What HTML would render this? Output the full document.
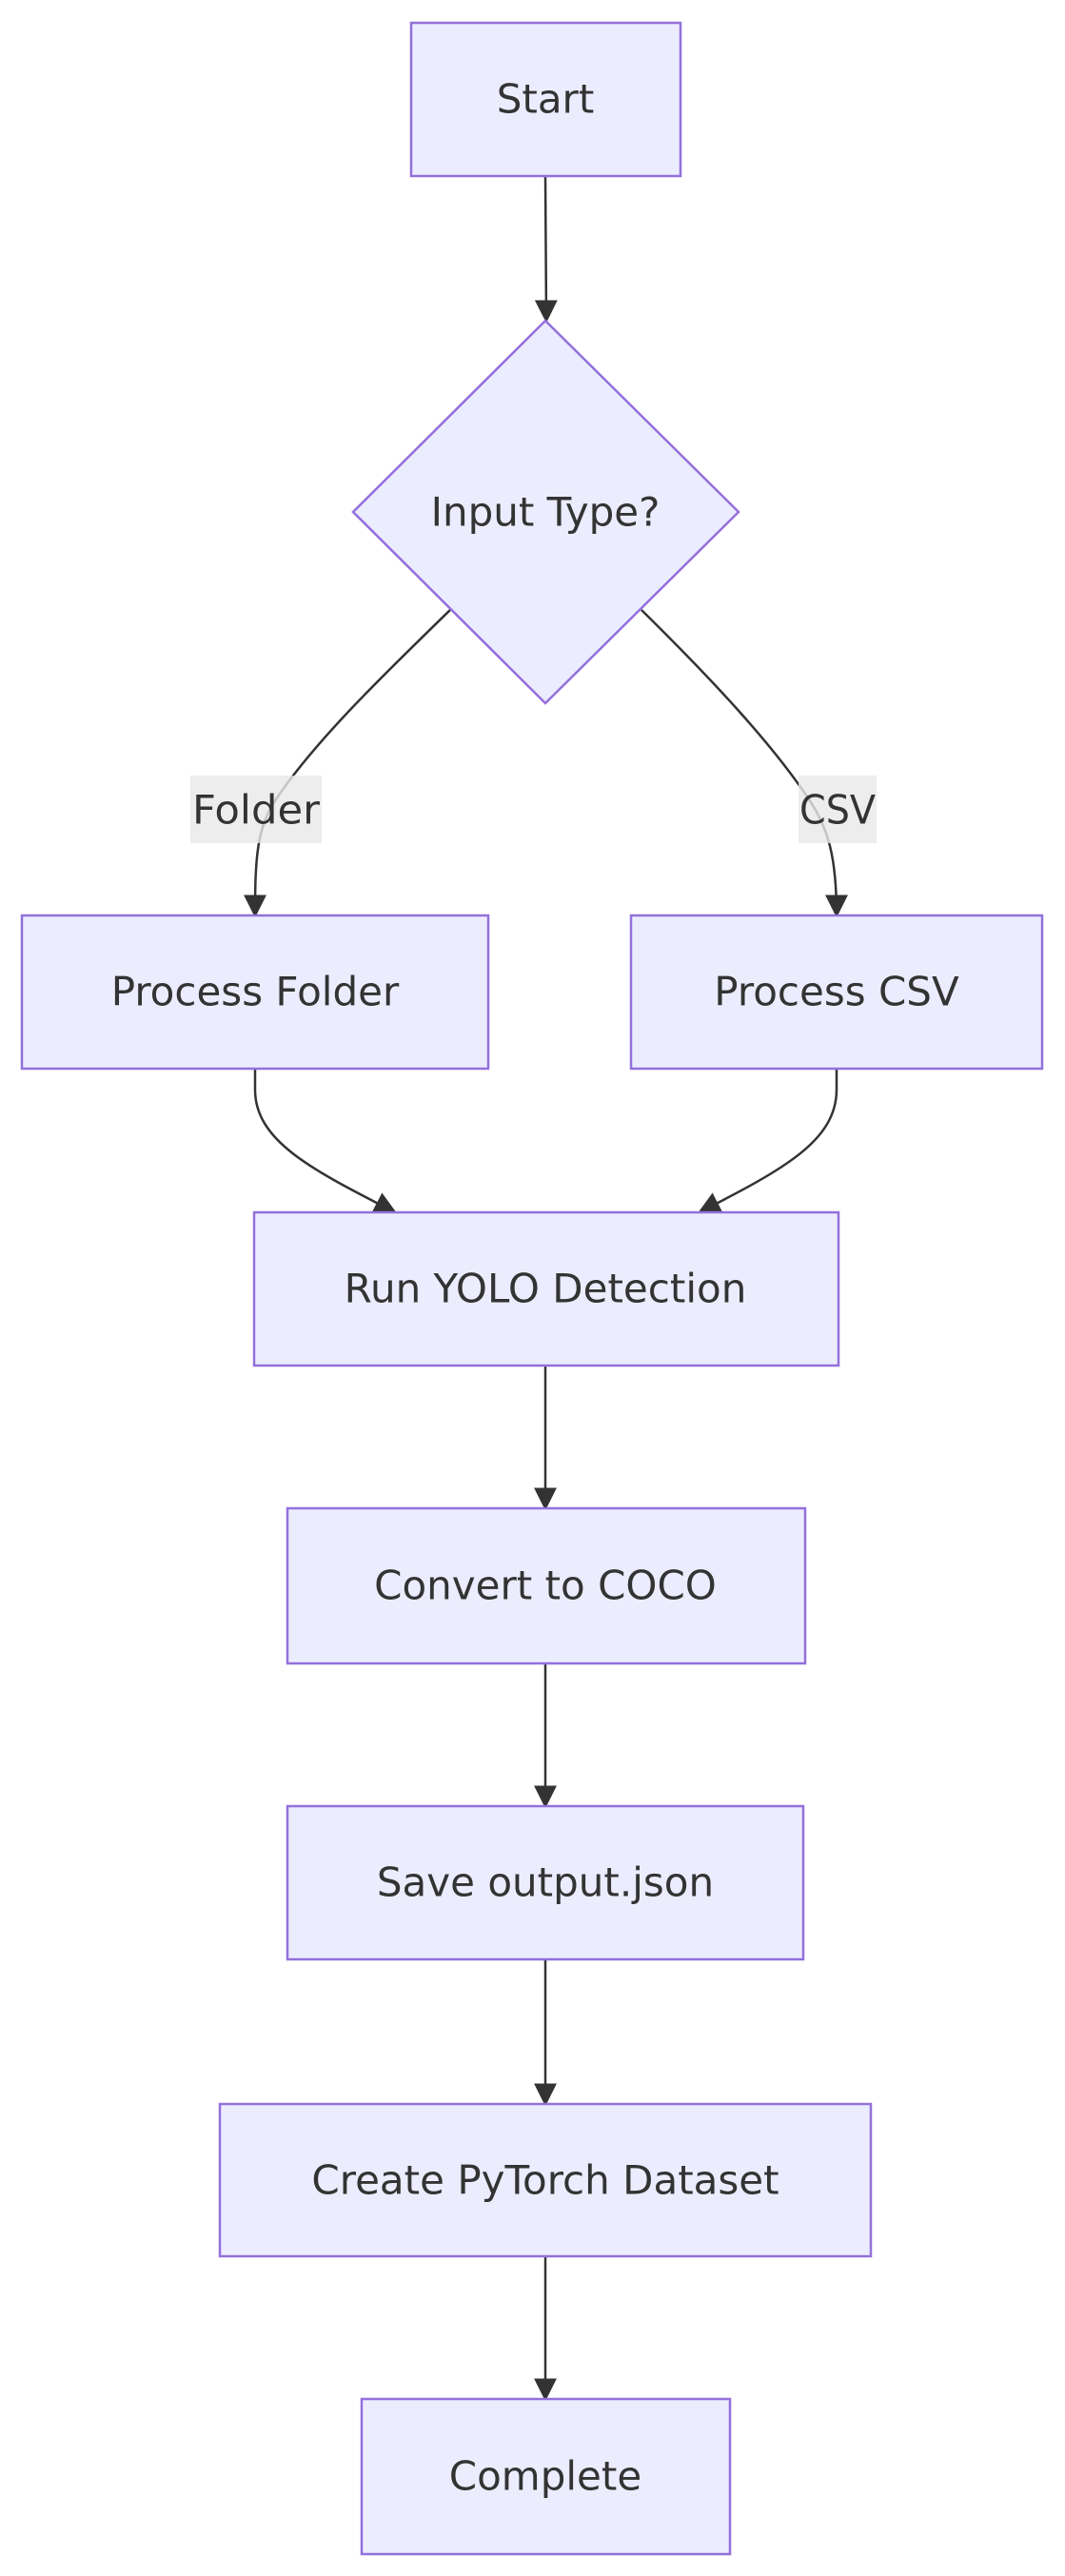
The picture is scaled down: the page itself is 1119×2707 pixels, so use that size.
<!DOCTYPE html>
<html><head><meta charset="utf-8"><style>
html,body{margin:0;padding:0;background:#fff;}
svg{display:block;}
text{font-family:"DejaVu Sans","Liberation Sans",sans-serif;font-size:42px;fill:#333;text-anchor:middle;dominant-baseline:central;}
.n{fill:#ECECFF;stroke:#9370DB;stroke-width:2.5;}
.e{fill:none;stroke:#333;stroke-width:2.5;}
</style></head><body>
<svg width="1119" height="2707" viewBox="0 0 1119 2707" xmlns="http://www.w3.org/2000/svg">
<defs>
<marker id="b" viewBox="0 0 10 10" refX="9" refY="5" markerWidth="24" markerHeight="24" markerUnits="userSpaceOnUse" orient="auto"><path d="M0,0L10,5L0,10z" fill="#333"/></marker></defs>
<path class="e" d="M573,185 L574,337" marker-end="url(#b)"/>
<path class="e" d="M473,641 C400,712 330,780 290,840 C270,870 268,900 268,962" marker-end="url(#b)"/>
<path class="e" d="M674,641 C746,712 810,780 850,840 C870,870 879,900 879,962" marker-end="url(#b)"/>
<path class="e" d="M268,1123 L268,1145 C268,1200 330,1230 415,1274" marker-end="url(#b)"/>
<path class="e" d="M879,1123 L879,1145 C879,1200 820,1230 735,1274" marker-end="url(#b)"/>
<path class="e" d="M573,1435 L573,1585" marker-end="url(#b)"/>
<path class="e" d="M573,1748 L573,1898" marker-end="url(#b)"/>
<path class="e" d="M573,2059 L573,2211" marker-end="url(#b)"/>
<path class="e" d="M573,2371 L573,2521" marker-end="url(#b)"/>
<rect x="200" y="815" width="138" height="71" fill="#e8e8e8" fill-opacity="0.8"/>
<text x="269" y="851" textLength="134" lengthAdjust="spacingAndGlyphs">Folder</text>
<rect x="839" y="815" width="82" height="71" fill="#e8e8e8" fill-opacity="0.8"/>
<text x="880" y="851" textLength="80" lengthAdjust="spacingAndGlyphs">CSV</text>
<rect class="n" x="432" y="24" width="283" height="161"/>
<text x="573" y="104">Start</text>
<polygon class="n" points="573,337 776,538 573,739 371,538"/>
<text x="573" y="538">Input Type?</text>
<rect class="n" x="23" y="962" width="490" height="161"/>
<text x="268" y="1042">Process Folder</text>
<rect class="n" x="663" y="962" width="432" height="161"/>
<text x="879" y="1042">Process CSV</text>
<rect class="n" x="267" y="1274" width="614" height="161"/>
<text x="573" y="1354">Run YOLO Detection</text>
<rect class="n" x="302" y="1585" width="544" height="163"/>
<text x="573" y="1666">Convert to COCO</text>
<rect class="n" x="302" y="1898" width="542" height="161"/>
<text x="573" y="1978">Save output.json</text>
<rect class="n" x="231" y="2211" width="684" height="160"/>
<text x="573" y="2291">Create PyTorch Dataset</text>
<rect class="n" x="380" y="2521" width="387" height="163"/>
<text x="573" y="2602">Complete</text>
</svg>
</body></html>
